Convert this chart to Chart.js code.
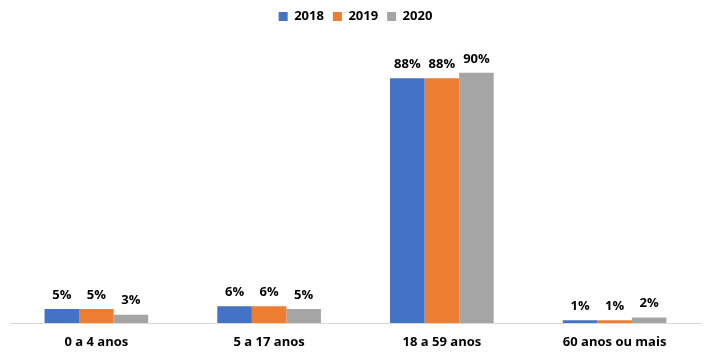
<!DOCTYPE html>
<html><head><meta charset="utf-8">
<script src="https://cdn.jsdelivr.net/npm/chart.js@4/dist/chart.umd.min.js"></script>
<style>html,body{margin:0;padding:0;background:#fff}#wrap{width:711px;height:355px}</style>
</head><body><div id="wrap"><canvas id="c" width="711" height="355"></canvas></div>
<script>
const categories = ["0 a 4 anos", "5 a 17 anos", "18 a 59 anos", "60 anos ou mais"];
const seriesNames = ["2018", "2019", "2020"];
const values2018 = [5, 6, 88, 1];
const values2019 = [5, 6, 88, 1];
const values2020 = [3, 5, 90, 2];
const colors = ["#4472C4", "#ED7D31", "#A5A5A5"];
const FONT = "'Open Sans', 'Liberation Sans', sans-serif";

const labelPlugin = {
  id: 'barLabels',
  afterDatasetsDraw(chart) {
    const ctx = chart.ctx;
    ctx.save();
    ctx.font = "bold 13px " + FONT;
    ctx.fillStyle = "#000";
    ctx.textAlign = "center";
    ctx.textBaseline = "middle";
    chart.data.datasets.forEach((ds, i) => {
      const meta = chart.getDatasetMeta(i);
      meta.data.forEach((bar, j) => {
        ctx.fillText(ds.data[j] + "%", bar.x, bar.y - 14);
      });
    });
    ctx.restore();
  }
};

const legendSpacing = {
  id: 'legendSpacing',
  beforeInit(chart) {
    const orig = chart.legend.fit;
    chart.legend.fit = function () {
      orig.call(this);
      this.height += 12;
    };
  }
};

new Chart(document.getElementById('c'), {
  type: 'bar',
  data: {
    labels: categories,
    datasets: [
      {label: seriesNames[0], data: values2018, backgroundColor: colors[0]},
      {label: seriesNames[1], data: values2019, backgroundColor: colors[1]},
      {label: seriesNames[2], data: values2020, backgroundColor: colors[2]}
    ]
  },
  options: {
    responsive: false,
    animation: false,
    layout: {padding: {left: 10, right: 10, top: 1, bottom: 0}},
    categoryPercentage: 0.6,
    barPercentage: 1.0,
    plugins: {
      legend: {
        position: 'top',
        labels: {boxWidth: 9, boxHeight: 9, padding: 9, color: '#000', font: {family: FONT, size: 13, weight: 'bold'}}
      },
      tooltip: {enabled: false}
    },
    scales: {
      x: {
        grid: {display: false, drawTicks: false},
        border: {display: true, color: '#D9D9D9', width: 1},
        ticks: {color: '#000', padding: 11, font: {family: FONT, size: 13, weight: 'bold'}},
        afterFit(scale) { scale.height = 32; }
      },
      y: {
        display: false,
        min: 0, max: 100
      }
    }
  },
  plugins: [labelPlugin, legendSpacing]
});
</script></body></html>
